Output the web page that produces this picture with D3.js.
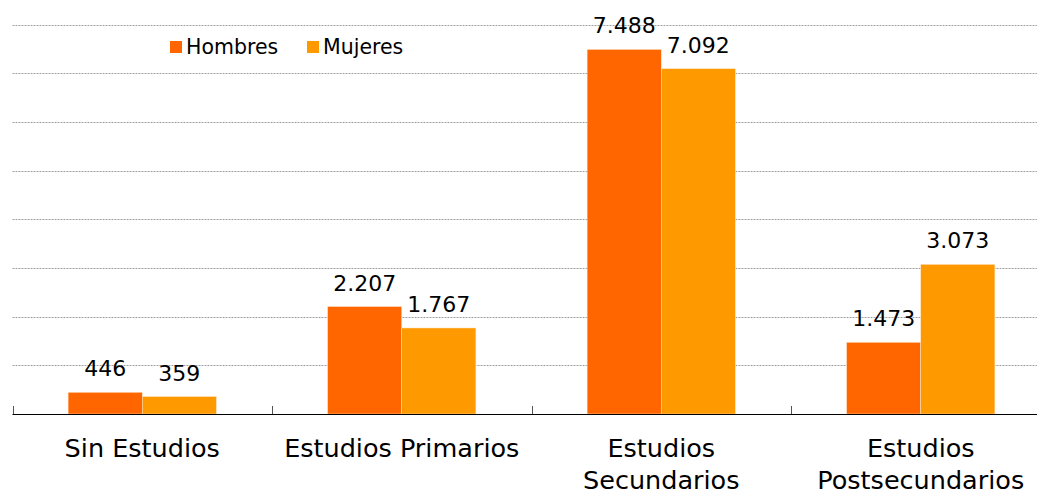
<!DOCTYPE html>
<html>
<head>
<meta charset="utf-8">
<script src="https://cdn.jsdelivr.net/npm/d3@7"></script>
<style>
  body { margin: 0; background: #fff; }
  svg { display: block; font-family: "DejaVu Sans", Verdana, sans-serif; }
</style>
</head>
<body>
<div id="chart"></div>
<script>
// Data
const categories = ['Sin Estudios', 'Estudios Primarios', 'Estudios\nSecundarios', 'Estudios\nPostsecundarios'];
const series = ['Hombres', 'Mujeres'];
const hombres = [446, 2207, 7488, 1473];
const mujeres = [359, 1767, 7092, 3073];
const yTicks = [0, 1000, 2000, 3000, 4000, 5000, 6000, 7000, 8000];

const colors = { Hombres: '#ff6600', Mujeres: '#ff9900' };

const width = 1037;
const height = 492;
const plot = { left: 12.5, right: 1050.5, top: 24.5, bottom: 414 };

const svg = d3.select('#chart')
  .append('svg')
  .attr('width', width)
  .attr('height', height);

// Scales
const x = d3.scaleBand()
  .domain(categories)
  .range([plot.left, plot.right]);

const xSub = d3.scaleBand()
  .domain(series)
  .range([0, x.bandwidth()])
  .paddingOuter(0.75);

const y = d3.scaleLinear()
  .domain([0, 8000])
  .range([plot.bottom, plot.top]);

// Gridlines
svg.append('g')
  .selectAll('line')
  .data(yTicks.filter(d => d > 0))
  .enter()
  .append('line')
  .attr('x1', plot.left)
  .attr('x2', width)
  .attr('y1', d => Math.round(y(d)) + 0.5)
  .attr('y2', d => Math.round(y(d)) + 0.5)
  .attr('stroke', '#a0a0a0')
  .attr('stroke-width', 1)
  .attr('stroke-dasharray', '2,1');

// Bars
const rows = categories.map((c, i) => ({ cat: c, values: [
  { key: 'Hombres', value: hombres[i] },
  { key: 'Mujeres', value: mujeres[i] }
] }));

const groups = svg.append('g')
  .selectAll('g')
  .data(rows)
  .enter()
  .append('g')
  .attr('transform', d => 'translate(' + x(d.cat) + ',0)');

groups.selectAll('rect')
  .data(d => d.values)
  .enter()
  .append('rect')
  .attr('x', d => xSub(d.key))
  .attr('width', xSub.bandwidth())
  .attr('y', d => y(d.value))
  .attr('height', d => plot.bottom - y(d.value))
  .attr('fill', d => colors[d.key])
  .attr('stroke', '#ffe6cc')
  .attr('stroke-width', 0.5);

// Value labels
const fmt = d3.formatLocale({ decimal: ',', thousands: '.', grouping: [3], currency: ['', ' €'] }).format(',d');

groups.selectAll('text')
  .data(d => d.values)
  .enter()
  .append('text')
  .attr('x', d => xSub(d.key) + xSub.bandwidth() / 2)
  .attr('y', d => y(d.value) - 16)
  .attr('text-anchor', 'middle')
  .attr('font-size', 22)
  .attr('fill', '#000')
  .text(d => fmt(d.value));

// X axis
const xAxis = svg.append('g')
  .attr('transform', 'translate(0,' + plot.bottom + ')');

xAxis.append('line')
  .attr('x1', plot.left)
  .attr('x2', width)
  .attr('y1', 0.5)
  .attr('y2', 0.5)
  .attr('stroke', '#000');

xAxis.selectAll('.tick')
  .data(categories)
  .enter()
  .append('line')
  .attr('class', 'tick')
  .attr('x1', d => Math.round(x(d)) + 0.5)
  .attr('x2', d => Math.round(x(d)) + 0.5)
  .attr('y1', 0)
  .attr('y2', -8)
  .attr('stroke', '#555');

const labels = xAxis.selectAll('.label')
  .data(categories)
  .enter()
  .append('text')
  .attr('class', 'label')
  .attr('text-anchor', 'middle')
  .attr('font-size', 25.5)
  .attr('fill', '#000');

labels.selectAll('tspan')
  .data(d => d.split('\n').map(t => ({ t: t, c: d })))
  .enter()
  .append('tspan')
  .attr('x', d => x(d.c) + x.bandwidth() / 2)
  .attr('y', (d, i) => 43 + i * 31.5)
  .text(d => d.t);

// Legend
const legend = svg.append('g')
  .attr('transform', 'translate(170,41)');

const item = legend.selectAll('g')
  .data(series)
  .enter()
  .append('g')
  .attr('transform', (d, i) => 'translate(' + (i * 137) + ',0)');

item.append('rect')
  .attr('width', 12)
  .attr('height', 12)
  .attr('fill', d => colors[d]);

item.append('text')
  .attr('x', 16)
  .attr('y', 13)
  .attr('font-size', 20.5)
  .attr('fill', '#000')
  .text(d => d);
</script>
</body>
</html>
